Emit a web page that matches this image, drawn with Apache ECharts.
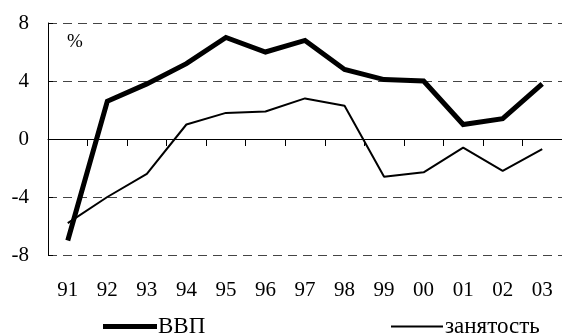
<!DOCTYPE html>
<html>
<head>
<meta charset="utf-8">
<script src="https://cdn.jsdelivr.net/npm/echarts@6/dist/echarts.min.js"></script>
<style>
  html, body { margin: 0; padding: 0; background: #fff; }
  #chart { width: 562px; height: 335px; }
</style>
</head>
<body>
<div id="chart"></div>
<script>
// Years (two-digit) along the category axis
const years = ['91', '92', '93', '94', '95', '96', '97', '98', '99', '00', '01', '02', '03'];
// Annual growth, %
const gdp = [-7.0, 2.6, 3.8, 5.2, 7.0, 6.0, 6.8, 4.8, 4.1, 4.0, 1.0, 1.4, 3.8];
const employment = [-5.8, -4.0, -2.4, 1.0, 1.8, 1.9, 2.8, 2.3, -2.6, -2.3, -0.6, -2.2, -0.7];
const yTicks = { min: -8, max: 8, step: 4 };

const FONT = '"Liberation Serif", "Times New Roman", serif';
const GRID = { left: 48, top: 23, width: 520, height: 232 };

const chart = echarts.init(document.getElementById('chart'), null, { renderer: 'canvas' });

chart.setOption({
  animation: false,
  backgroundColor: '#ffffff',
  textStyle: { fontFamily: FONT, color: '#000' },
  grid: Object.assign({ containLabel: false }, GRID),
  xAxis: [
    {
      // category axis through y = 0 with ticks between the years
      type: 'category',
      data: years,
      position: 'bottom',
      offset: -GRID.height / 2,
      boundaryGap: true,
      axisLine: { show: true, onZero: false, lineStyle: { color: '#000', width: 1 } },
      axisTick: { show: true, inside: false, length: 7, interval: 0, lineStyle: { color: '#000', width: 1 } },
      axisLabel: { show: true, interval: 0, formatter: () => '' },
      splitLine: { show: false }
    },
    {
      // year labels under the plot
      type: 'category',
      data: years,
      position: 'bottom',
      boundaryGap: true,
      axisLine: { show: false, onZero: false },
      axisTick: { show: false },
      axisLabel: { show: true, interval: 0, margin: 25, fontFamily: FONT, fontSize: 21, color: '#000' },
      splitLine: { show: false }
    }
  ],
  yAxis: {
    type: 'value',
    min: yTicks.min,
    max: yTicks.max,
    interval: yTicks.step,
    axisLine: { show: true, lineStyle: { color: '#000', width: 1 } },
    axisTick: { show: true, inside: true, length: 5, lineStyle: { color: '#000', width: 1 } },
    axisLabel: { margin: 19, fontFamily: FONT, fontSize: 21, color: '#000' },
    splitLine: { show: true, lineStyle: { color: '#444', width: 1, type: [9, 6] } }
  },
  legend: [
    {
      left: 98, top: 310,
      icon: 'rect', itemWidth: 54, itemHeight: 5, itemGap: 0,
      textStyle: { fontFamily: FONT, fontSize: 23, color: '#000', padding: [0, 0, 0, -4] },
      data: ['ВВП']
    },
    {
      left: 386, top: 310,
      icon: 'rect', itemWidth: 52, itemHeight: 2, itemGap: 0,
      textStyle: { fontFamily: FONT, fontSize: 23, color: '#000', padding: [0, 0, 0, -3] },
      data: ['занятость']
    }
  ],
  graphic: [
    {
      type: 'text',
      left: 67, top: 33,
      style: { text: '%', font: '19px ' + FONT, fill: '#000' }
    }
  ],
  series: [
    {
      name: 'ВВП',
      type: 'line',
      data: gdp,
      symbol: 'none',
      lineStyle: { color: '#000', width: 5, join: 'miter' },
      itemStyle: { color: '#000' },
      z: 3
    },
    {
      name: 'занятость',
      type: 'line',
      data: employment,
      symbol: 'none',
      lineStyle: { color: '#000', width: 2 },
      itemStyle: { color: '#000' },
      z: 2
    }
  ]
});
</script>
</body>
</html>
